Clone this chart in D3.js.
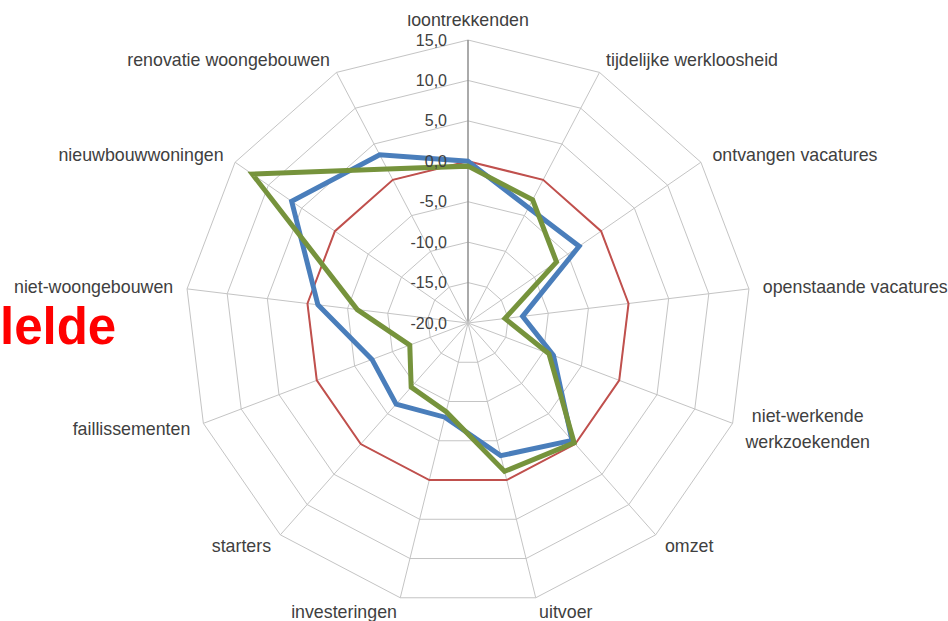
<!DOCTYPE html>
<html>
<head>
<meta charset="utf-8">
<script src="https://cdn.jsdelivr.net/npm/d3@7"></script>
<style>
  body { margin: 0; background: #fff; }
  svg { display: block; }
</style>
</head>
<body>
<div id="radar"></div>
<script>
// categories, clockwise from the top
var categories = [
  "loontrekkenden", "tijdelijke werkloosheid", "ontvangen vacatures",
  "openstaande vacatures", "niet-werkende werkzoekenden", "omzet", "uitvoer",
  "investeringen", "starters", "faillissementen", "niet-woongebouwen",
  "nieuwbouwwoningen", "renovatie woongebouwen"
];

// series values
var redValues = [0, 0, 0, 0, 0, 0, 0, 0, 0, 0, 0, 0, 0];
var blueValues = [0.0, -3.9, -3.3, -13.2, -8.7, -0.6, -3.1, -8.0, -6.6, -7.3, -1.3, 6.5, 3.5];
var greenValues = [-0.6, -2.8, -6.7, -15.4, -9.3, -0.2, -1.1, -8.7, -9.4, -12.3, -6.2, 12.4, 1.5];

// value axis ticks
var tickValues = [-20, -15, -10, -5, 0, 5, 10, 15];

function radar() {
  var width = 948,
    height = 621,
    cx = 468,
    cy = 323,
    R = 283;

  var svg = d3.select("#radar").append("svg")
    .attr("width", width)
    .attr("height", height)
    .style("font-family", "'Liberation Sans', Arial, sans-serif");

  svg.append("rect")
    .attr("width", width)
    .attr("height", height)
    .attr("fill", "#fff");

  var r = d3.scaleLinear().domain([-20, 15]).range([0, R]);

  var angle = d3.scaleLinear()
    .domain([0, categories.length])
    .range([0, 2 * Math.PI]);

  function point(i, v) {
    var a = angle(i);
    return [cx + r(v) * Math.sin(a), cy - r(v) * Math.cos(a)];
  }

  var nl = d3.formatLocale({
    decimal: ",",
    thousands: ".",
    grouping: [3],
    currency: ["€", ""],
    minus: "-"
  });
  var fmt = nl.format(".1f");

  var line = d3.line().curve(d3.curveLinearClosed);

  // grid rings
  svg.append("g")
    .attr("class", "rings")
    .selectAll("path")
    .data(tickValues.slice(1))
    .enter().append("path")
    .attr("d", function(t) {
      return line(categories.map(function(c, i) {
        return point(i, t);
      }));
    })
    .attr("fill", "none")
    .attr("stroke", "#c4c4c4")
    .attr("stroke-width", 1);

  // spokes
  svg.append("g")
    .attr("class", "spokes")
    .selectAll("line")
    .data(categories)
    .enter().append("line")
    .attr("x1", cx)
    .attr("y1", cy)
    .attr("x2", function(d, i) { return point(i, 15)[0]; })
    .attr("y2", function(d, i) { return point(i, 15)[1]; })
    .attr("stroke", function(d, i) { return i == 0 ? "#8e8e8e" : "#c4c4c4"; })
    .attr("stroke-width", function(d, i) { return i == 0 ? 1.5 : 1; });

  // series lines: red first, then blue, green on top
  var series = [
    { values: redValues, color: "#c0504d", w: 2 },
    { values: blueValues, color: "#4a7ebb", w: 5 },
    { values: greenValues, color: "#76933c", w: 5 }
  ];

  svg.append("g")
    .attr("class", "series")
    .selectAll("path")
    .data(series)
    .enter().append("path")
    .attr("d", function(s) {
      return line(s.values.map(function(v, i) {
        return point(i, v);
      }));
    })
    .attr("fill", "none")
    .attr("stroke", function(s) { return s.color; })
    .attr("stroke-width", function(s) { return s.w; })
    .attr("stroke-linejoin", "miter");

  // tick labels along the top axis
  svg.append("g")
    .attr("class", "ticks")
    .selectAll("text")
    .data(tickValues)
    .enter().append("text")
    .attr("x", cx - 21)
    .attr("y", function(t) { return cy - r(t); })
    .attr("dy", "0.35em")
    .attr("text-anchor", "end")
    .attr("font-size", 16)
    .attr("fill", "#404040")
    .text(function(t) { return fmt(t); });

  // category labels
  var labels = svg.append("g")
    .attr("class", "labels")
    .selectAll("text")
    .data(categories)
    .enter().append("text")
    .attr("font-size", 17.8)
    .attr("fill", "#404040")
    .attr("text-anchor", function(d, i) {
      var s = Math.sin(angle(i));
      return s > 0.1 ? "start" : (s < -0.1 ? "end" : "middle");
    })
    .attr("transform", function(d, i) {
      var a = angle(i),
        x = cx + (R + 14) * Math.sin(a),
        y = cy - (R + 14) * Math.cos(a);
      if (i == 0) y -= 6;
      return "translate(" + x + "," + y + ")";
    });

  // the long label is wrapped on two lines
  labels.each(function(d) {
    var el = d3.select(this);
    var parts = d == "niet-werkende werkzoekenden" ? ["niet-werkende", "werkzoekenden"] : [d];
    parts.forEach(function(p, k) {
      el.append("tspan")
        .attr("x", 0)
        .attr("y", (k - (parts.length - 1) / 2) * 26)
        .attr("dy", "0.35em")
        .attr("text-anchor", parts.length > 1 ? "middle" : null)
        .attr("dx", parts.length > 1 ? 62 : 0)
        .text(p);
    });
  });

  // top of the picture is cropped
  svg.append("rect")
    .attr("x", 0)
    .attr("y", 0)
    .attr("width", width)
    .attr("height", 15)
    .attr("fill", "#fff");

  // red overlay word on the left
  svg.append("text")
    .attr("x", 0)
    .attr("y", 344)
    .attr("font-size", 51)
    .attr("font-weight", "bold")
    .attr("fill", "#ff0000")
    .text("lelde");
}

radar();
</script>
</body>
</html>
